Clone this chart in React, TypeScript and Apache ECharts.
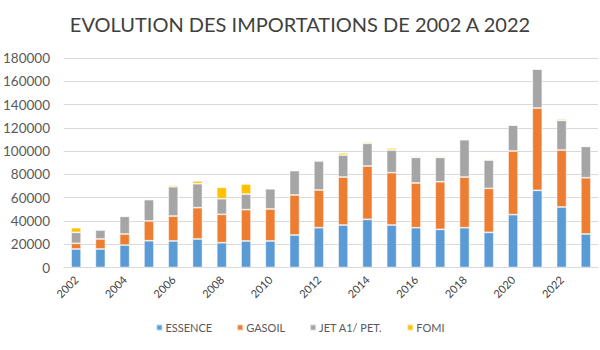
import React, { useEffect, useRef } from "react";
import * as echarts from "echarts";

const years = [
  "2002", "2003", "2004", "2005", "2006", "2007", "2008", "2009", "2010", "2011", "2012",
  "2013", "2014", "2015", "2016", "2017", "2018", "2019", "2020", "2021", "2022", "2023",
];
const essence = [
  15900, 15900, 19300, 23000, 22800, 24500, 21300, 22800, 22800, 27900, 34200,
  36500, 41400, 36500, 34200, 32800, 34200, 30200, 45400, 66300, 52000, 28800,
];
const gasoil = [
  4900, 8600, 9500, 17000, 21400, 26900, 24400, 26900, 27500, 34400, 32400,
  41200, 45800, 45000, 38400, 40900, 43500, 37800, 54700, 70700, 48900, 48300,
];
const jet = [
  9400, 7700, 15200, 18300, 25200, 20600, 13400, 13400, 17400, 20900, 24900,
  18900, 19500, 19400, 22000, 20900, 32100, 24300, 22300, 33500, 25500, 27000,
];
const fomi = [
  4000, 800, 400, 800, 1200, 2300, 9800, 8600, 0, 800, 800,
  1800, 1100, 1700, 900, 900, 500, 900, 0, 0, 1200, 0,
];
const seriesNames = ["ESSENCE", "GASOIL", "JET A1/ PET.", "FOMI"];
const colors = ["#5B9BD5", "#ED7D31", "#A5A5A5", "#FFC000"];
const title = "EVOLUTION DES IMPORTATIONS DE 2002 A 2022";

export default function App() {
  const ref = useRef<HTMLDivElement>(null);
  useEffect(() => {
    if (!ref.current) return;
    const chart = echarts.init(ref.current, undefined, { renderer: "svg" });
    const data = [essence, gasoil, jet, fomi];
    chart.setOption({
      animation: false,
      color: colors,
      textStyle: { fontFamily: "Lato, 'Liberation Sans', sans-serif" },
      title: {
        text: title,
        left: "center",
        top: 9,
        textStyle: {
          fontSize: 20,
          fontWeight: "normal",
          color: "#404040",
          fontFamily: "Lato, 'Liberation Sans', sans-serif",
        },
      },
      legend: {
        bottom: 12,
        left: "center",
        itemWidth: 6,
        itemHeight: 6,
        itemGap: 24,
        icon: "rect",
        textStyle: { fontSize: 11, color: "#595959", padding: [0, 0, 0, -2] },
        data: seriesNames,
      },
      grid: { left: 52, right: 2, top: 58, bottom: 82.5 },
      xAxis: {
        type: "category",
        data: years,
        axisLine: { show: true, lineStyle: { color: "#D9D9D9" } },
        axisTick: { show: false },
        axisLabel: {
          interval: 1,
          rotate: 45,
          fontSize: 11,
          color: "#404040",
          margin: 10,
        },
      },
      yAxis: {
        type: "value",
        min: 0,
        max: 180000,
        interval: 20000,
        axisLine: { show: false },
        axisTick: { show: false },
        splitLine: { lineStyle: { color: "#D9D9D9", width: 1 } },
        axisLabel: {
          fontSize: 13.5,
          color: "#595959",
          margin: 14,
          formatter: (v: number) => String(v),
        },
      },
      series: seriesNames.map((name, i) => ({
        name,
        type: "bar",
        stack: "total",
        barWidth: 10,
        data: data[i],
        itemStyle: { borderColor: "rgba(255,255,255,0.6)", borderWidth: 0.8 },
      })),
    });
    return () => chart.dispose();
  }, []);
  return (
    <div
      ref={ref}
      style={{ position: "fixed", left: 0, top: 0, width: 600, height: 350, background: "#fff" }}
    />
  );
}
